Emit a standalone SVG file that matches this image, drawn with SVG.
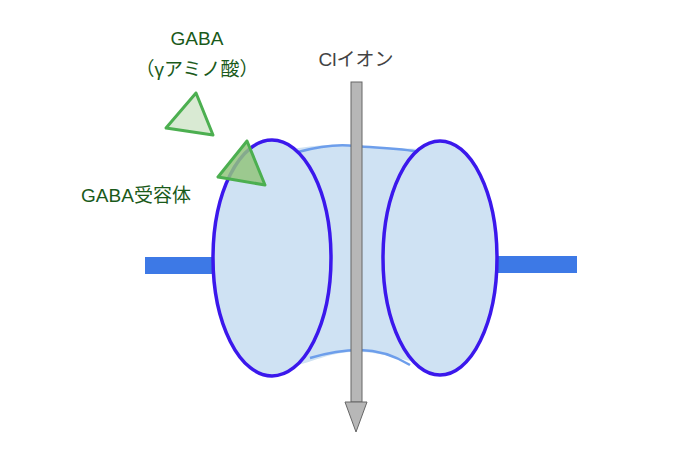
<svg xmlns="http://www.w3.org/2000/svg" width="697" height="455" viewBox="0 0 697 455">
<style>
.t{font-family:"Liberation Sans","Noto Sans CJK JP",sans-serif;font-size:19px}
.g{fill:#1a5a1a}
.ring{fill:#cfe2f3;stroke:#3b18ec;stroke-width:3.5}
</style>
<g id="membrane">
<rect x="145" y="257" width="72" height="17" fill="#3d79e6"/>
<rect x="495" y="256" width="82" height="17" fill="#3d79e6"/>
</g>
<g id="channel">
<path d="M270,150 C300,150 320,142 350,146 C380,148 400,148 445,150 L445,365 C410,366 385,350 350,352 C320,354 300,370 270,368 Z" fill="#cfe2f3"/>
<path d="M298,152 C320,146 340,144 355,146 C380,148 400,148 420,152" fill="none" stroke="#6d9eeb" stroke-width="2.5"/>
<path d="M310,358 C330,352 345,350 360,350 C380,350 395,356 410,365" fill="none" stroke="#6d9eeb" stroke-width="2.5"/>
<ellipse class="ring" cx="272" cy="258" rx="59" ry="118"/>
<ellipse class="ring" cx="440" cy="258" rx="57" ry="117"/>
</g>
<g id="arrow">
<rect x="351" y="82" width="11" height="320" fill="#b7b7b7" stroke="#666" stroke-width="1"/>
<polygon points="345,402 367,402 356,432" fill="#b7b7b7" stroke="#666" stroke-width="1"/>
</g>
<g id="gaba">
<polygon points="196,93 166,128 213,135" fill="#d9ead3" stroke="#4caf50" stroke-width="3" stroke-linejoin="round"/>
<text class="t g" x="197" y="45" text-anchor="middle">GABA</text>
<text class="t g" x="197" y="76" text-anchor="middle">（γアミノ酸）</text>
</g>
<g id="receptor">
<polygon points="247,141 218,177 265,185" fill="#93c47d" stroke="#4caf50" stroke-width="3" stroke-linejoin="round" fill-opacity="0.85"/>
<text class="t g" x="136" y="202" text-anchor="middle">GABA受容体</text>
</g>
<g id="cl">
<text class="t" x="356" y="66" text-anchor="middle" fill="#434343">Clイオン</text>
</g>
</svg>
